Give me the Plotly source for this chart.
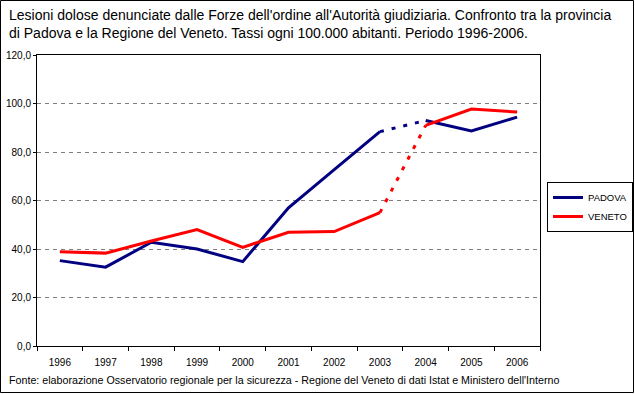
import plotly.graph_objects as go

years = [1996, 1997, 1998, 1999, 2000, 2001, 2002, 2003, 2004, 2005, 2006]
padova = [35.2, 32.5, 42.8, 40.0, 34.8, 57.0, 72.7, 88.4, 93.0, 88.7, 94.4]
veneto = [38.9, 38.3, 43.3, 48.0, 40.7, 46.9, 47.2, 55.0, 91.0, 97.7, 96.5]
y_ticks = [0, 20, 40, 60, 80, 100, 120]

title = ("Lesioni dolose denunciate dalle Forze dell'ordine all'Autorità giudiziaria. Confronto tra la provincia<br>"
         "di Padova e la Regione del Veneto. Tassi ogni 100.000 abitanti. Periodo 1996-2006.")
source = "Fonte: elaborazione Osservatorio regionale per la sicurezza - Regione del Veneto di dati Istat e Ministero dell'Interno"

FONT = "Liberation Sans"
W, H = 635, 394
L, R, T, B = 37, 95, 55, 48
pw, ph = W - L - R, H - T - B

series = [("PADOVA", padova, "#000080"), ("VENETO", veneto, "#FF0000")]
brk = years.index(2003)

fig = go.Figure()
for name, vals, col in series:
    fig.add_trace(go.Scatter(x=years[:brk + 1], y=vals[:brk + 1], mode="lines", name=name,
                             legendgroup=name, line=dict(color=col, width=3)))
    fig.add_trace(go.Scatter(x=years[brk:brk + 2], y=vals[brk:brk + 2], mode="lines", name=name,
                             legendgroup=name, showlegend=False,
                             line=dict(color=col, width=3, dash="4px,8px")))
    fig.add_trace(go.Scatter(x=years[brk + 1:], y=vals[brk + 1:], mode="lines", name=name,
                             legendgroup=name, showlegend=False, line=dict(color=col, width=3)))

def px(xp):
    return (xp - L) / pw

def py(yp):
    return (H - B - yp) / ph

fig.update_layout(
    width=W, height=H,
    margin=dict(l=L, r=R, t=T, b=B, autoexpand=False),
    paper_bgcolor="white", plot_bgcolor="white",
    separators=", ",
    font=dict(family=FONT, size=10, color="black"),
    showlegend=True,
    legend=dict(x=px(547), y=py(182), xanchor="left", yanchor="top",
                bordercolor="black", borderwidth=1, bgcolor="white",
                font=dict(family=FONT, size=9.5), tracegroupgap=0,
                itemwidth=30),
    xaxis=dict(range=[1995.5, 2006.5], tickvals=years, ticktext=[str(y) for y in years],
               ticks="", showgrid=False, zeroline=False, automargin=False,
               showline=True, linecolor="black", linewidth=1, mirror=True,
               tickfont=dict(family=FONT, size=10), ticklabelstandoff=7,
               minor=dict(tickvals=[y + 0.5 for y in [1995] + years], ticks="outside",
                          ticklen=4, tickcolor="black", showgrid=False)),
    yaxis=dict(range=[0, 120], tickvals=y_ticks, tickformat=".1f", automargin=False,
               ticks="outside", ticklen=3, tickcolor="black",
               showgrid=True, gridcolor="#808080", griddash="4px,4px", gridwidth=1,
               zeroline=False, showline=True, linecolor="black", linewidth=1, mirror=True,
               tickfont=dict(family=FONT, size=10)),
    shapes=[dict(type="rect", xref="paper", yref="paper",
                 x0=px(0.5), x1=px(633.5), y0=py(392.5), y1=py(0.5),
                 line=dict(color="black", width=1), layer="above")],
    annotations=[
        dict(text=title, xref="paper", yref="paper", x=px(7), y=py(5),
             xanchor="left", yanchor="top", align="left", showarrow=False,
             font=dict(family=FONT, size=14, color="black")),
        dict(text=source, xref="paper", yref="paper", x=px(7), y=py(380),
             xanchor="left", yanchor="middle", align="left", showarrow=False,
             font=dict(family=FONT, size=10.7, color="black")),
    ],
)

fig.write_html("out.html", config={"displayModeBar": False},
               post_script="document.body.style.margin='0';document.body.style.overflow='hidden';")
